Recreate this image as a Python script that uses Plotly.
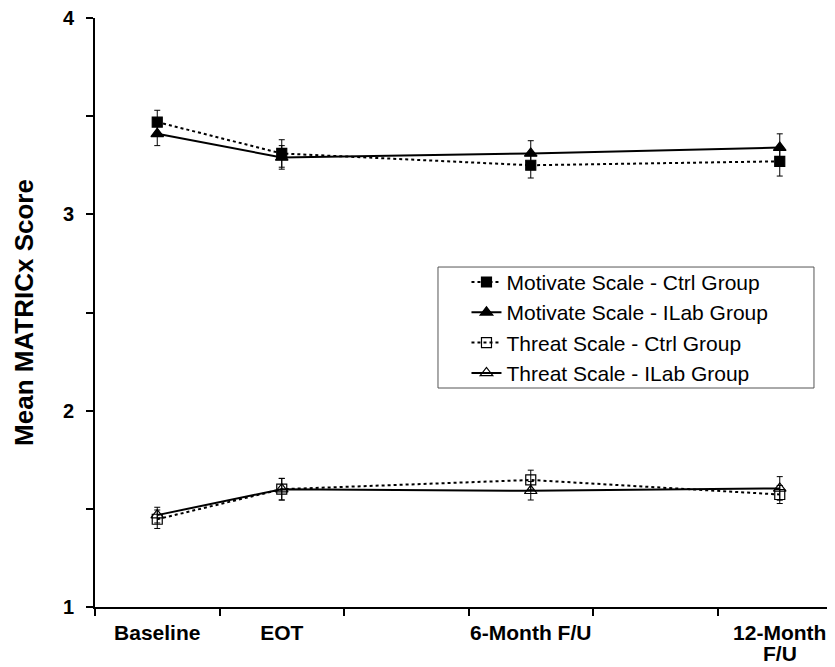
import plotly.graph_objects as go

# Time points and their slot positions on the axis (slots 3 and 5 are empty gaps)
timepoints = ["Baseline", "EOT", "6-Month F/U", "12-Month"]
last_label_line2 = "F/U"
slot_pos = [0.5, 1.5, 3.5, 5.5]

motivate_ctrl = [3.47, 3.31, 3.25, 3.27]
motivate_ctrl_err = [0.06, 0.07, 0.065, 0.075]
motivate_ilab = [3.41, 3.29, 3.31, 3.34]
motivate_ilab_err = [0.06, 0.06, 0.065, 0.07]
threat_ctrl = [1.447, 1.60, 1.647, 1.573]
threat_ctrl_err = [0.047, 0.055, 0.05, 0.046]
threat_ilab = [1.468, 1.60, 1.592, 1.604]
threat_ilab_err = [0.04, 0.055, 0.047, 0.06]

series = [
    ("Motivate Scale - Ctrl Group", motivate_ctrl, motivate_ctrl_err, "square", "dot", 10),
    ("Motivate Scale - ILab Group", motivate_ilab, motivate_ilab_err, "triangle-up", "solid", 11),
    ("Threat Scale - Ctrl Group", threat_ctrl, threat_ctrl_err, "square-open", "dot", 10),
    ("Threat Scale - ILab Group", threat_ilab, threat_ilab_err, "triangle-up-open", "solid", 11),
]

FONT = "Liberation Sans, Arial, sans-serif"

fig = go.Figure()
for name, vals, errs, sym, dash, msize in series:
    fig.add_trace(go.Scatter(
        x=slot_pos, y=vals, name=name, mode="lines+markers",
        line=dict(color="black", width=2, dash=dash),
        marker=dict(symbol=sym, size=msize, color="black",
                    line=dict(color="black", width=1.2)),
        error_y=dict(type="data", array=errs, visible=True,
                     color="black", thickness=1, width=3),
    ))

xr = [0, 740 / 124.5]
fig.update_layout(
    width=827, height=659,
    margin=dict(l=87, r=0, t=10, b=60, autoexpand=False),
    paper_bgcolor="white", plot_bgcolor="white",
    font=dict(family=FONT, color="black"),
    showlegend=True,
    legend=dict(
        x=0.502, y=0.586, xanchor="left", yanchor="top",
        borderwidth=0, bgcolor="rgba(0,0,0,0)",
        font=dict(family=FONT, size=21, color="black"),
        itemwidth=30, tracegroupgap=0,
    ),
    shapes=[dict(type="rect", xref="paper", yref="paper",
                 x0=0.4635, x1=0.9716, y0=0.3718, y1=0.5772,
                 line=dict(color="#555555", width=1), layer="below")],
    annotations=[dict(text=last_label_line2, x=slot_pos[-1], xref="x",
                      y=-46 / 589, yref="paper", yanchor="middle",
                      showarrow=False, borderpad=0,
                      font=dict(family=FONT, size=21, weight="bold", color="black"))],
    xaxis=dict(
        range=xr, showline=True, linecolor="black", linewidth=2,
        showgrid=False, zeroline=False, automargin=False,
        tickmode="array", tickvals=slot_pos, ticktext=timepoints,
        ticks="", ticklabelstandoff=6, ticklabeloverflow="allow",
        tickfont=dict(family=FONT, size=21, weight="bold", color="black"),
        minor=dict(tickmode="array", tickvals=[0, 1, 2, 3, 4, 5],
                   ticks="outside", ticklen=7, tickwidth=2, tickcolor="black",
                   showgrid=False),
    ),
    xaxis2=dict(
        range=xr, overlaying="x", anchor="y", side="bottom",
        showline=False, showgrid=False, zeroline=False, automargin=False,
        tickmode="array", tickvals=[0, 1, 2, 3, 4, 5],
        ticks="inside", ticklen=7, tickwidth=2, tickcolor="black",
        showticklabels=False,
    ),
    yaxis=dict(
        range=[1, 4], showline=True, linecolor="black", linewidth=2,
        showgrid=False, zeroline=False, automargin=False,
        tickmode="array", tickvals=[1, 2, 3, 4],
        ticks="outside", ticklen=7, tickwidth=2, tickcolor="black",
        ticklabelstandoff=8, ticklabeloverflow="allow",
        tickfont=dict(family=FONT, size=20, weight="bold", color="black"),
        minor=dict(tickmode="array", tickvals=[1.5, 2.5, 3.5],
                   ticks="outside", ticklen=7, tickwidth=2, tickcolor="black",
                   showgrid=False),
        title=dict(text="Mean MATRICx Score", standoff=22,
                   font=dict(family=FONT, size=26, weight="bold", color="black")),
    ),
    yaxis2=dict(
        range=[1, 4], overlaying="y", anchor="x", side="left",
        showline=False, showgrid=False, zeroline=False, automargin=False,
        tickmode="array", tickvals=[1, 1.5, 2, 2.5, 3, 3.5, 4],
        ticks="inside", ticklen=7, tickwidth=2, tickcolor="black",
        showticklabels=False,
    ),
)

fig.write_html("out.html")
